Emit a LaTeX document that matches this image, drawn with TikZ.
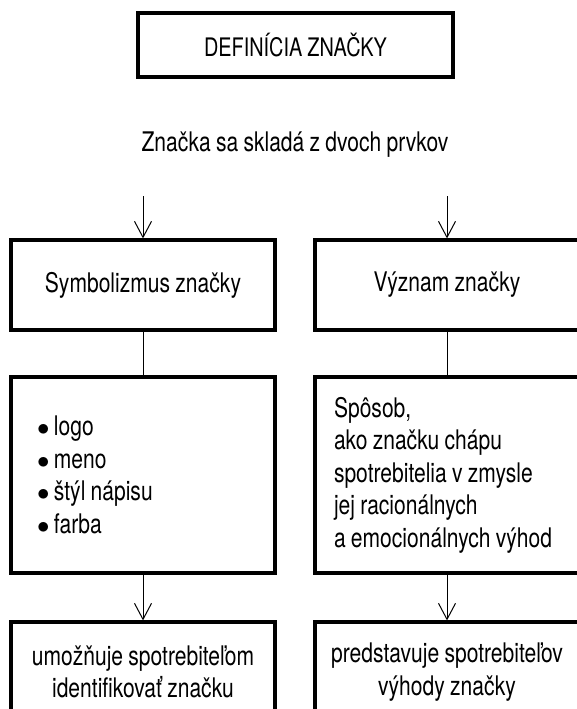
\documentclass[tikz,border=0pt]{standalone}
\usepackage{fontspec}
\setmainfont{TeX Gyre Heros}[FakeStretch=0.78, WordSpace=0.9]
\usetikzlibrary{arrows.meta}

\begin{document}
\begin{tikzpicture}[>={Straight Barb[length=16pt,width=17pt]}, x=1pt, y=-1pt,
    box/.style={draw, line width=3.2pt, minimum width=264pt, minimum height=90pt,
        font=\fontsize{27}{32.5}\selectfont, align=center},
    txt/.style={font=\fontsize{27}{32.5}\selectfont},
    link/.style={line width=1pt}]

    \useasboundingbox (0,0) rectangle (577,709);

    \node[box, minimum width=315pt, minimum height=64pt, font=\fontsize{25.5}{30}\selectfont] (def) at (295.5,45) {DEFINÍCIA ZNAČKY};
    \node[txt] (skl) at (295,145) {Značka sa skladá z dvoch prvkov};

    \node[box] (sym) at (143,285) {Symbolizmus značky};
    \node[box] (vyz) at (447,285) {Význam značky};

    \node[box, minimum height=196pt, text width=212pt, inner xsep=26pt, align=flush left] (prv) at (143,475)
        {$\bullet$\,logo\\ $\bullet$\,meno\\ $\bullet$\,štýl nápisu\\ $\bullet$\,farba};
    \node[box, minimum height=196pt, text width=226pt, inner xsep=19pt, align=flush left] (spo) at (447,475)
        {Spôsob,\\ ako značku chápu\\ spotrebitelia v zmysle\\ jej racionálnych\\ a emocionálnych výhod};

    \node[box, minimum height=100pt] (ide) at (143,672) {umožňuje spotrebiteľom\\ identifikovať značku};
    \node[box, minimum height=100pt] (vyh) at (447,672) {predstavuje spotrebiteľov\\ výhody značky};

    % arrows
    \coordinate (a1) at (143,196);
    \coordinate (a2) at (447,196);
    \draw[->, link] (a1) -- (sym);
    \draw[->, link] (a2) -- (vyz);

    \draw[link] (sym) -- (prv);
    \draw[link] (vyz) -- (spo);

    \draw[->, link] (prv) -- (ide);
    \draw[->, link] (spo) -- (vyh);

\end{tikzpicture}
\end{document}
